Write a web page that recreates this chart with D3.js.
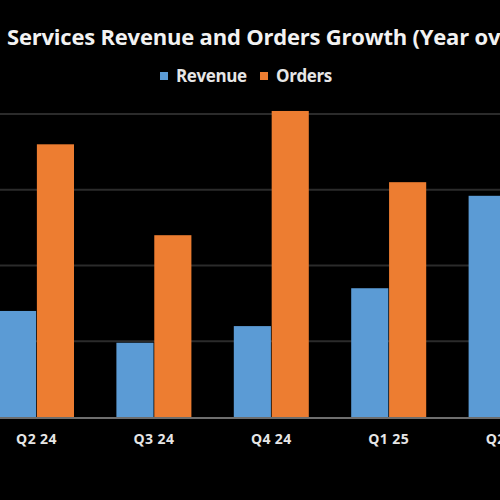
<!DOCTYPE html>
<html>
<head>
    <meta charset="utf-8">
    <style>
        body {
            margin: 0;
            background: #000;
        }
        svg {
            display: block;
            background: #000;
            font-family: 'Open Sans', 'Noto Sans', Arial, sans-serif;
        }
    </style>
</head>
<body>
    <svg width="500" height="500"></svg>

<script src="https://d3js.org/d3.v7.min.js"></script>
<script>
    // values (year-over-year growth, %)
    let quarters = ["Q2 24", "Q3 24", "Q4 24", "Q1 25", "Q2 25"];
    let revenue = [7.0, 4.9, 6.0, 8.5, 14.6];
    let orders = [18.0, 12.0, 20.2, 15.5, 10.0];
    let seriesNames = ["Revenue", "Orders"];
    let gridTicks = [0, 5, 10, 15, 20];

    let colors = { Revenue: "#5b9bd5", Orders: "#ed7d31" };

    let rows = quarters.map((q, i) => ({ q: q, Revenue: revenue[i], Orders: orders[i] }));

    let svg = d3.select("svg");

    // the chart is cut on both sides, so the first group sits near the left edge
    let x = d3.scalePoint()
        .domain(quarters)
        .range([36.5, 36.5 + 4 * 117.4]);

    let inner = d3.scaleBand()
        .domain(seriesNames)
        .range([-37.5, 37.5])
        .paddingInner(0.02);

    let y = d3.scaleLinear()
        .domain([0, 20])
        .range([417, 114]);

    // gridlines
    svg.append("g")
        .selectAll("line")
        .data(gridTicks.slice(1))
        .join("line")
        .attr("x1", 0)
        .attr("x2", 500)
        .attr("y1", d => y(d))
        .attr("y2", d => y(d))
        .style("stroke", "#2b2b2b")
        .style("stroke-width", 2);

    // bars
    let groups = svg.append("g")
        .selectAll("g")
        .data(rows)
        .join("g")
        .attr("transform", d => `translate(${x(d.q)},0)`);

    groups.selectAll("rect")
        .data(d => seriesNames.map(s => ({ s: s, v: d[s] })))
        .join("rect")
        .attr("x", d => inner(d.s))
        .attr("width", inner.bandwidth())
        .attr("y", d => y(d.v))
        .attr("height", d => y(0) - y(d.v))
        .style("fill", d => colors[d.s]);

    // baseline
    svg.append("line")
        .attr("x1", 0)
        .attr("x2", 500)
        .attr("y1", y(0) + 1)
        .attr("y2", y(0) + 1)
        .style("stroke", "#6e6e6e")
        .style("stroke-width", 2);

    // category labels
    svg.append("g")
        .selectAll("text")
        .data(quarters)
        .join("text")
        .attr("x", d => x(d))
        .attr("y", 444)
        .attr("text-anchor", "middle")
        .style("fill", "#e6e6e6")
        .style("font-size", "14px")
        .style("font-weight", "bold")
        .style("letter-spacing", "0.4px")
        .text(d => d);

    // title
    svg.append("text")
        .attr("x", 7)
        .attr("y", 45)
        .style("fill", "#f2f2f2")
        .style("font-size", "22px")
        .style("font-weight", "bold")
        .style("letter-spacing", "-0.2px")
        .text("Services Revenue and Orders Growth (Year over Year)");

    // legend
    let legendX = [160, 260];
    let legend = svg.append("g")
        .selectAll("g")
        .data(seriesNames)
        .join("g")
        .attr("transform", (d, i) => `translate(${legendX[i]},0)`);

    legend.append("rect")
        .attr("x", 0)
        .attr("y", 72)
        .attr("width", 8)
        .attr("height", 8)
        .style("fill", d => colors[d]);

    legend.append("text")
        .attr("x", 16)
        .attr("y", 82)
        .style("fill", "#e6e6e6")
        .style("font-size", "17px")
        .style("font-weight", "bold")
        .style("letter-spacing", "-0.4px")
        .text(d => d);
</script>
</body>
</html>
